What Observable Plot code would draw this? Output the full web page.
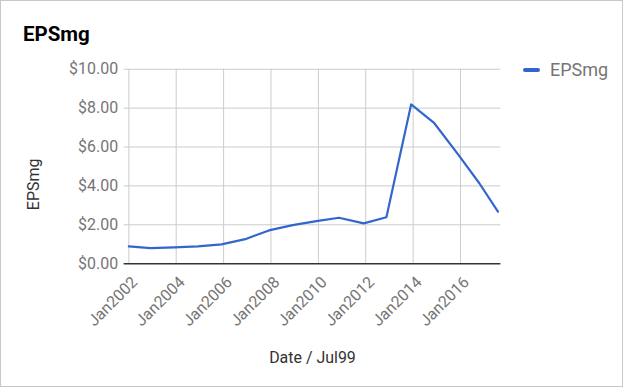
<!DOCTYPE html>
<html><head><meta charset="utf-8">
<script src="https://cdn.jsdelivr.net/npm/d3@7"></script>
<script src="https://cdn.jsdelivr.net/npm/@observablehq/plot@0.6"></script>
<style>
body{margin:0;font-family:Roboto,sans-serif;background:#fff}
#c{position:relative;width:623px;height:387px;box-sizing:border-box;border:1px solid #c8c8c8;overflow:hidden}
#c svg{position:absolute;left:-1px;top:-1px}
#title{position:absolute;left:22px;top:21px;font-size:20.5px;font-weight:bold;color:#000;z-index:2}
#legend{position:absolute;left:522px;top:58px;font-size:18px;color:#757575;display:flex;align-items:center;z-index:2}
#legend .sw{display:inline-block;width:17px;height:4px;border-radius:2px;background:#3366cc;margin-right:10px}
</style></head><body>
<div id="c"><div id="title">EPSmg</div><div id="legend"><span class="sw"></span><span>EPSmg</span></div></div>
<script>
const dates = ["2002-01-01","2002-12-01","2003-12-01","2004-12-01","2005-12-01","2006-12-01","2007-12-01","2008-12-01","2009-12-01","2010-11-15","2011-12-01","2012-11-15","2013-12-01","2014-11-15","2015-12-01","2016-10-15","2017-08-01"];
const eps = [0.89,0.80,0.84,0.89,0.99,1.26,1.71,1.98,2.19,2.36,2.07,2.39,8.19,7.26,5.60,4.15,2.68];
const xTickLabels = ["Jan2002","Jan2004","Jan2006","Jan2008","Jan2010","Jan2012","Jan2014","Jan2016"];
const yTicks = [0,2,4,6,8,10];
const seriesName = "EPSmg";
const xTitle = "Date / Jul99";

const data = dates.map((d,i)=>({date:new Date(d), eps:eps[i]}));
const xTicks = xTickLabels.map(s=>new Date(s.slice(3)+"-01-01"));
const plot = Plot.plot({
  width:623, height:387,
  marginLeft:124, marginRight:121, marginTop:69, marginBottom:123,
  style:{fontFamily:"Roboto, sans-serif", fontSize:"16px", color:"#757575", background:"transparent", overflow:"visible"},
  x:{type:"utc", domain:[new Date("2001-10-20"), new Date("2017-09-15")]},
  y:{domain:[0,10]},
  marks:[
    Plot.gridX(xTicks,{stroke:"#cccccc", strokeOpacity:1}),
    Plot.gridY(yTicks.filter(d=>d>0),{stroke:"#cccccc", strokeOpacity:1}),
    Plot.axisY(yTicks,{tickSize:0, tickPadding:6, tickFormat:d=>"$"+d.toFixed(2), label:null, fill:"#757575", fontSize:16}),
    Plot.axisX(xTicks,{tickSize:0, tickPadding:4, tickRotate:-45, tickFormat:(d,i)=>xTickLabels[i], label:null, fill:"#757575", fontSize:16, dx:6, dy:12}),
    Plot.ruleY([0],{stroke:"#333333", strokeWidth:1.5}),
    Plot.line(data,{x:"date", y:"eps", stroke:"#3366cc", strokeWidth:2.2}),
    Plot.text([seriesName],{frameAnchor:"left", textAnchor:"middle", dx:-91, dy:18, rotate:-90, fill:"#333", fontSize:16}),
    Plot.text([xTitle],{frameAnchor:"bottom", dy:100, fill:"#333", fontSize:16})
  ]
});
document.getElementById("c").appendChild(plot);
</script>
</body></html>
